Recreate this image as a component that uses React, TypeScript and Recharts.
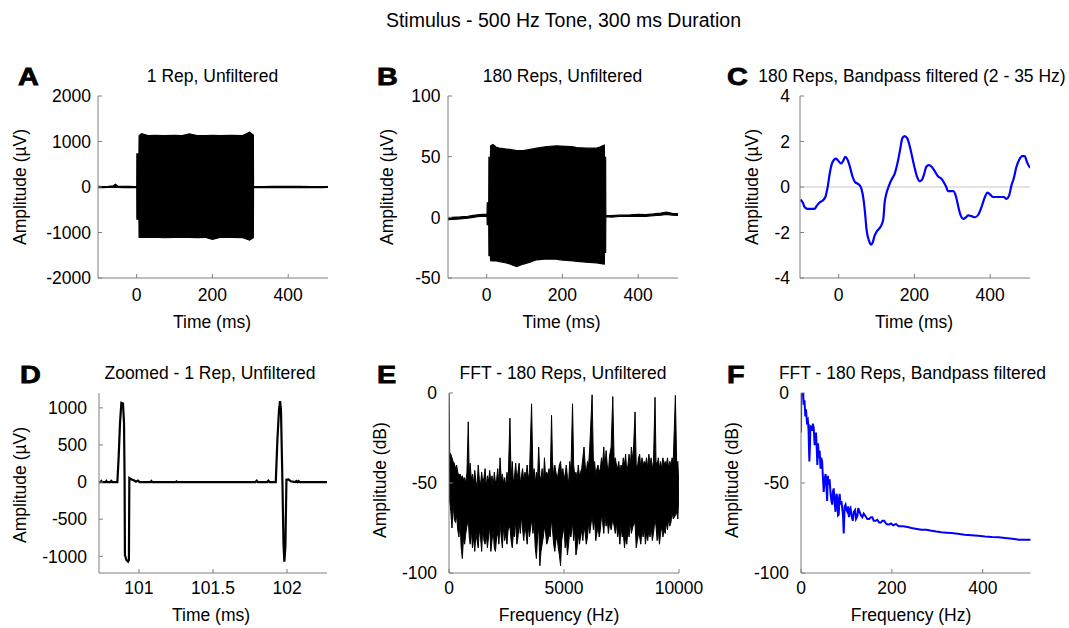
import React from 'react';
import { ComposedChart, Line, Area, XAxis, YAxis, ReferenceLine } from 'recharts';

const FONT = '"Liberation Sans", Arial, Helvetica, sans-serif';
const AXIS_COLOR = '#7f7f7f';

// ---------- Panel A: 1 rep, unfiltered (envelope: time ms, low, high µV)
const panelAEnvelope: [number, number, number][] = [
  [-101, -12, 14], [-90, -14, 10], [-75, -10, 16], [-62, -8, 26], [-56, -6, 60], [-50, -10, 20],
  [-35, -14, 12], [-20, -12, 14], [-5, -14, 10], [0.3, -12, 12], [0.6, -707, 729], [6, -710, 725],
  [6.5, -1108, 1133], [13, -1100, 1170], [30, -1110, 1130], [50, -1102, 1136], [70, -1115, 1128],
  [100, -1105, 1135], [120, -1110, 1130], [139, -1108, 1168], [160, -1112, 1132], [180, -1105, 1128],
  [200, -1150, 1136], [220, -1110, 1130], [250, -1108, 1135], [280, -1112, 1130], [298, -1168, 1205],
  [308, -1115, 1140], [308.5, -12, 12], [330, -14, 10], [360, -10, 14], [400, -14, 12],
  [430, -12, 14], [460, -10, 10], [490, -14, 8], [507, -10, 6],
];

// ---------- Panel B: 180 reps, unfiltered (envelope)
const panelBEnvelope: [number, number, number][] = [
  [-104, -2, -0.5], [-90, -1.7, -0.1], [-70, -1.3, 0.3], [-50, -0.7, 0.9], [-35, 0, 1.6],
  [-20, 0.8, 2.2], [-8, 1, 2.4], [1, 0.6, 2.4], [1.5, -6, 12], [5.5, -6, 12], [6, -31.6, 49.5],
  [10, -31.6, 49.5], [10.6, -35.7, 59], [16.7, -36, 60], [25.5, -36, 57.7], [34, -36.5, 57],
  [52, -37.5, 56.3], [61, -38.5, 56], [79, -40.7, 55], [97, -38.5, 55], [114.5, -37, 56],
  [123, -36, 56.5], [132, -35, 57], [158.5, -34.3, 58.2], [185, -34.5, 59], [194, -35, 58.8],
  [211, -35.5, 58.5], [229, -36, 58], [237, -36.3, 57.5], [264, -37, 57], [290, -37.5, 57],
  [299, -38, 58], [306, -38.3, 59], [310.5, -38.5, 59.5], [311, -29, 49.5], [314, -29, 49.5],
  [314.5, 0.5, 1.6], [330, 0.2, 1.4], [350, 0.7, 1.8], [380, 0.8, 2.1], [400, 1, 2.5], [420, 0.8, 2.3],
  [440, 1.3, 2.8], [460, 1.7, 3.5], [474, 2.5, 4.4], [490, 1.7, 3.3], [507, 1.5, 3],
];

// ---------- Panel C: 180 reps, bandpass filtered (time ms, µV)
const panelCTime = [
  -101, -94, -90, -82, -64, -57, -51, -42, -35, -29, -22, -16, -7, 0, 6, 13, 17, 24, 31, 37, 43, 54, 60,
  66, 69, 74, 80, 85, 89, 95, 102, 111, 118, 121, 126, 133, 141, 148, 155, 162, 168, 174, 181, 188,
  194, 200, 207, 214, 220, 226, 231, 238, 246, 255, 262, 271, 277, 284, 288, 303, 310, 316, 322, 329,
  336, 342, 351, 360, 369, 377, 386, 392, 399, 408, 425, 436, 443, 450, 456, 462, 469, 476, 484, 491,
  497, 504, 508,
];
const panelCAmp = [
  -0.55, -0.7, -0.88, -0.96, -0.96, -0.81, -0.69, -0.59, -0.44, 0, 0.74, 1.1, 1.25, 1.13, 1.03, 1.18, 1.33,
  1.18, 0.81, 0.44, 0.22, 0.1, -0.07, -0.59, -1.03, -1.92, -2.36, -2.53, -2.47, -2.14, -1.92, -1.74,
  -1.4, -0.74, -0.29, 0.07, 0.37, 0.59, 1.03, 1.62, 2.14, 2.24, 2.14, 1.77, 1.33, 0.88, 0.44, 0.25,
  0.32, 0.59, 0.88, 0.96, 0.88, 0.66, 0.47, 0.37, 0.22, 0, -0.18, -0.18, -0.44, -0.88, -1.25, -1.4,
  -1.33, -1.25, -1.28, -1.33, -1.21, -0.88, -0.44, -0.25, -0.32, -0.44, -0.44, -0.44, -0.52, -0.37,
  0.07, 0.37, 0.88, 1.18, 1.36, 1.36, 1.1, 0.88, 0.86,
];

// ---------- Panel D: zoomed 1 rep (time ms, µV)
const panelDTime = [
  100.73, 100.74, 100.746, 100.752, 100.775, 100.78, 100.786, 100.806, 100.813, 100.82, 100.854,
  100.863, 100.872, 100.881, 100.892, 100.899, 100.903, 100.905, 100.915, 100.926, 100.932, 100.935,
  100.95, 100.965, 100.98, 100.993, 101.005, 101.078, 101.084, 101.09, 101.248, 101.253, 101.258,
  101.787, 101.795, 101.803, 101.866, 101.874, 101.882, 101.924, 101.935, 101.946, 101.953, 101.959,
  101.969, 101.976, 101.982, 101.989, 101.996, 102.01, 102.025, 102.055, 102.063, 102.07, 102.078,
  102.086, 102.27,
];
const panelDAmp = [
  0, 0, 15, 0, 0, 15, 0, 0, 15, 0, 0,
  346, 797, 1067, 1058, 797, 0, -982, -1050, -1072, -1050, 54,
  35, 25, 5, 20, 0, 0, 15, 0, 0, 8, 0,
  0, 18, 0, 0, 18, 0, 0, 571, 977, 1089, 977,
  0, -824, -1072, -869, 31, 35, 10, 0, 15, 0, 15,
  0, 0,
];

// ---------- Panel E: FFT 180 reps unfiltered (Hz, low dB, high dB)
const panelEEnvelope: [number, number, number][] = [
  [0, -58, 0], [30, -60, -33], [80, -66, -34], [130, -75, -36], [180, -62, -38], [230, -70, -39],
  [280, -72, -42], [330, -68, -40], [380, -76, -44], [430, -80, -46], [480, -72, -45], [530, -86, -47],
  [580, -92, -46], [630, -80, -48], [680, -84, -47], [730, -78, -50], [780, -74, -44], [838, -70, -16],
  [880, -80, -47], [920, -84, -39], [970, -76, -48], [1020, -86, -45], [1070, -80, -50], [1120, -88, -43],
  [1170, -78, -49], [1220, -82, -52], [1270, -86, -40], [1320, -76, -48], [1370, -80, -51], [1420, -88, -44],
  [1470, -74, -50], [1520, -82, -47], [1570, -84, -42], [1620, -78, -52], [1670, -86, -46], [1720, -80, -49],
  [1770, -74, -43], [1820, -88, -50], [1870, -82, -46], [1920, -76, -52], [1970, -86, -44], [2020, -88, -50],
  [2070, -80, -48], [2120, -78, -42], [2170, -84, -51], [2220, -72, -36], [2270, -80, -48], [2320, -86, -45],
  [2370, -74, -50], [2420, -82, -47], [2470, -78, -52], [2520, -84, -44], [2570, -76, -50], [2649, -74, -14],
  [2700, -82, -48], [2750, -86, -38], [2800, -78, -50], [2850, -80, -46], [2900, -70, -39], [2950, -84, -48],
  [3000, -80, -44], [3050, -72, -39], [3100, -78, -50], [3150, -68, -46], [3200, -76, -42], [3250, -82, -49],
  [3300, -74, -44], [3350, -78, -46], [3400, -84, -40], [3450, -74, -48], [3500, -80, -44], [3591, -70, -6],
  [3650, -78, -46], [3700, -72, -42], [3750, -86, -50], [3800, -92, -44], [3850, -80, -48], [3900, -74, -30],
  [3950, -96, -46], [4000, -88, -48], [4050, -84, -42], [4100, -80, -50], [4150, -74, -36], [4200, -78, -47],
  [4250, -84, -44], [4300, -82, -46], [4350, -78, -42], [4400, -80, -48], [4459, -70, -12.4], [4500, -76, -38],
  [4550, -84, -46], [4600, -88, -40], [4650, -82, -44], [4700, -80, -48], [4750, -86, -44], [4800, -90, -40],
  [4850, -96, -38], [4900, -82, -46], [4950, -78, -42], [5000, -74, -48], [5050, -86, -45], [5100, -80, -40],
  [5150, -90, -47], [5200, -84, -50], [5250, -76, -38], [5300, -80, -44], [5371, -72, -6], [5420, -82, -40],
  [5470, -76, -46], [5520, -90, -44], [5570, -86, -48], [5620, -78, -40], [5670, -84, -46], [5720, -80, -44],
  [5770, -76, -42], [5820, -82, -36], [5870, -74, -30], [5920, -78, -40], [5970, -84, -44], [6020, -80, -38],
  [6070, -72, -40], [6120, -78, -30], [6222, -68, -1], [6280, -76, -40], [6330, -70, -38], [6380, -82, -46],
  [6430, -78, -42], [6480, -74, -40], [6530, -80, -44], [6580, -76, -42], [6630, -68, -36], [6680, -72, -40],
  [6730, -78, -30], [6780, -68, -42], [6830, -74, -32], [6880, -70, -40], [6930, -78, -44], [6980, -72, -35],
  [7050, -76, -30], [7121, -70, -2], [7180, -74, -38], [7230, -78, -36], [7280, -72, -40], [7330, -80, -42],
  [7380, -76, -38], [7430, -84, -44], [7480, -74, -40], [7530, -80, -42], [7580, -78, -36], [7630, -86, -40],
  [7680, -80, -34], [7730, -84, -44], [7780, -76, -40], [7830, -80, -34], [7880, -72, -42], [7930, -78, -30],
  [8000, -74, -38], [8089, -72, -10.5], [8140, -86, -40], [8190, -82, -42], [8240, -78, -36], [8290, -80, -34],
  [8340, -84, -42], [8390, -76, -36], [8440, -80, -40], [8490, -74, -38], [8540, -84, -40], [8590, -78, -36],
  [8640, -82, -42], [8690, -76, -34], [8740, -80, -40], [8790, -74, -36], [8840, -82, -42], [8890, -78, -38],
  [8958, -70, -2.4], [9000, -74, -38], [9050, -82, -40], [9100, -76, -36], [9150, -84, -42], [9200, -78, -38],
  [9250, -74, -42], [9300, -80, -36], [9350, -76, -40], [9400, -78, -38], [9450, -72, -40], [9500, -76, -36],
  [9550, -70, -42], [9600, -74, -38], [9650, -72, -40], [9700, -66, -36], [9750, -70, -38], [9843, -68, -1.3],
  [9900, -66, -40], [9950, -70, -38], [10000, -54, -54],
];

// ---------- Panel F: FFT 180 reps bandpass (Hz, dB)
const panelFFreq = [
  0, 0.5, 3.6, 4.7, 6, 7.7, 9.5, 11, 13, 15, 16.5, 18.4, 19.6, 20.6, 22.6, 24.3, 26, 28, 30, 31.5, 33,
  34.5, 36, 37.5, 39, 41, 43, 44.5, 46.5, 48, 50, 52, 54, 56, 57.5, 59, 61, 63, 65, 67, 68.6, 70, 72,
  74, 76, 78, 80, 81.5, 83, 85, 87, 89, 90.7, 92.5, 94, 96, 98, 100, 102, 104, 105.5, 107, 109, 111,
  114, 116, 119, 121, 124, 126, 129, 132, 135, 138, 142, 146, 150, 154, 157, 160, 164, 168, 172,
  175.6, 179, 183, 187, 190, 194, 198, 203, 209, 215, 220, 224, 235, 243, 255, 265, 276, 287, 298,
  309, 320, 331, 345, 360, 375, 390, 405, 420, 435, 449, 465, 479, 495, 507,
];
const panelFAmp = [
  -22, 0, -1, 0, -6.5, -4, -13, -9, -16, -15, -20, -38, -30, -18.5, -19, -21, -17, -19.4, -29, -24, -22,
  -30, -40, -28, -36, -32, -42, -36, -38, -46, -55, -48, -45, -52, -60, -46, -51, -48, -56, -60, -62, -55, -53,
  -61, -66, -56, -58, -68, -67.6, -56, -62, -60, -64, -68, -78, -63, -62, -65, -66, -63, -69, -65, -64, -68,
  -71, -66, -65, -70, -68.5, -64, -66, -68, -69, -67, -68.5, -70, -70, -69, -69, -71, -71, -70.5, -72,
  -72, -71, -71, -72.5, -73, -73, -72.5, -73.5, -72.8, -74, -74, -74, -74.5, -75, -75.5, -76, -76, -76.5, -77,
  -77.4, -77.6, -77.8, -78.2, -78.7, -79, -79.3, -79.7, -80, -80.2, -80.5, -81, -81.5, -81.5, -81.6,
];

// tick values
const timeTicks = [0, 200, 400];
const aYTicks = [-2000, -1000, 0, 1000, 2000];
const bYTicks = [-50, 0, 50, 100];
const cYTicks = [-4, -2, 0, 2, 4];
const dXTicks = [101, 101.5, 102];
const dYTicks = [-1000, -500, 0, 500, 1000];
const eXTicks = [0, 5000, 10000];
const dbTicks = [-100, -50, 0];
const fXTicks = [0, 200, 400];

const envRows = (rows: [number, number, number][]) => rows.map(([x, lo, hi]) => ({ x, r: [lo, hi] }));
const lineRows = (xs: number[], ys: number[]) => xs.map((x, i) => ({ x, y: ys[i] }));

type Box = { x: number; y: number; w: number; h: number };

const YW = 70;
const XH = 45;
const MT = 10;
const MR = 45;

function Panel(props: {
  box: Box;
  data: any[];
  xDomain: [number, number];
  yDomain: [number, number];
  xTicks: number[];
  yTicks: number[];
  xMargin: number;
  yMargin: number;
  children: React.ReactNode;
}) {
  const { box, data, xDomain, yDomain, xTicks, yTicks, xMargin, yMargin, children } = props;
  const tickStyle = { fill: '#000', fontSize: 17.5, fontFamily: FONT };
  return (
    <div style={{ position: 'absolute', left: box.x - YW, top: box.y - MT }}>
      <ComposedChart
        width={box.w + YW + MR}
        height={box.h + MT + XH}
        data={data}
        margin={{ top: MT, right: MR, bottom: 0, left: 0 }}
      >
        <XAxis
          type="number"
          dataKey="x"
          domain={xDomain}
          ticks={xTicks}
          allowDataOverflow
          interval={0}
          height={XH}
          tickSize={-4}
          tickMargin={xMargin}
          stroke={AXIS_COLOR}
          tick={tickStyle}
        />
        <YAxis
          type="number"
          domain={yDomain}
          ticks={yTicks}
          allowDataOverflow
          interval={0}
          width={YW}
          tickSize={-4}
          tickMargin={yMargin}
          stroke={AXIS_COLOR}
          tick={tickStyle}
        />
        {children}
      </ComposedChart>
    </div>
  );
}

const texts = {
  title: 'Stimulus - 500 Hz Tone, 300 ms Duration',
};

function Letter({ x, y, ch }: { x: number; y: number; ch: string }) {
  return (
    <text
      transform={`translate(${x},${y}) scale(1.2,1)`}
      style={{ fontFamily: FONT, fontSize: 24, fontWeight: 'bold', fill: '#000', stroke: '#000', strokeWidth: 0.8 }}
    >
      {ch}
    </text>
  );
}

export default function App() {
  const boxA: Box = { x: 98, y: 95.7, w: 230, h: 182 };
  const boxB: Box = { x: 448, y: 95.7, w: 230, h: 182 };
  const boxC: Box = { x: 799.5, y: 95.7, w: 230, h: 182 };
  const boxD: Box = { x: 99, y: 393.3, w: 228, h: 180 };
  const boxE: Box = { x: 449, y: 393.3, w: 230, h: 180 };
  const boxF: Box = { x: 800.5, y: 393.3, w: 229.5, h: 180 };
  const tDom: [number, number] = [-102, 505];

  const labelStyle: React.CSSProperties = { fontFamily: FONT, fontSize: 17.5, fill: '#000' };

  return (
    <div style={{ position: 'absolute', left: 0, top: 0, width: 1069, height: 628, background: '#fff', overflow: 'hidden' }}>
      <Panel box={boxA} data={envRows(panelAEnvelope)} xDomain={tDom} yDomain={[-2000, 2000]} xTicks={timeTicks} yTicks={aYTicks} xMargin={15} yMargin={11}>
        <Area dataKey="r" type="linear" stroke="#000" strokeWidth={1.2} fill="#000" fillOpacity={1} isAnimationActive={false} dot={false} activeDot={false} />
      </Panel>
      <Panel box={boxB} data={envRows(panelBEnvelope)} xDomain={tDom} yDomain={[-50, 100]} xTicks={timeTicks} yTicks={bYTicks} xMargin={15} yMargin={11.5}>
        <Area dataKey="r" type="linear" stroke="#000" strokeWidth={1.2} fill="#000" fillOpacity={1} isAnimationActive={false} dot={false} activeDot={false} />
      </Panel>
      <Panel box={boxC} data={lineRows(panelCTime, panelCAmp)} xDomain={tDom} yDomain={[-4, 4]} xTicks={timeTicks} yTicks={cYTicks} xMargin={15} yMargin={14}>
        <ReferenceLine y={0} stroke="#c8c8c8" strokeWidth={1.2} />
        <Line dataKey="y" type="monotone" stroke="#0000ff" strokeWidth={2.2} dot={false} activeDot={false} isAnimationActive={false} />
      </Panel>
      <Panel box={boxD} data={lineRows(panelDTime, panelDAmp)} xDomain={[100.73, 102.27]} yDomain={[-1225, 1200]} xTicks={dXTicks} yTicks={dYTicks} xMargin={13} yMargin={16}>
        <Line dataKey="y" type="linear" stroke="#000" strokeWidth={2.2} dot={false} activeDot={false} isAnimationActive={false} />
      </Panel>
      <Panel box={boxE} data={envRows(panelEEnvelope)} xDomain={[0, 10000]} yDomain={[-100, 0]} xTicks={eXTicks} yTicks={dbTicks} xMargin={13} yMargin={16}>
        <Area dataKey="r" type="linear" stroke="#000" strokeWidth={1} fill="#000" fillOpacity={1} isAnimationActive={false} dot={false} activeDot={false} />
      </Panel>
      <Panel box={boxF} data={lineRows(panelFFreq, panelFAmp)} xDomain={[0, 505]} yDomain={[-100, 0]} xTicks={fXTicks} yTicks={dbTicks} xMargin={13} yMargin={16}>
        <Line dataKey="y" type="linear" stroke="#0000ff" strokeWidth={2} dot={false} activeDot={false} isAnimationActive={false} />
      </Panel>

      <svg width={1069} height={628} style={{ position: 'absolute', left: 0, top: 0, pointerEvents: 'none' }}>
        <text x={563.5} y={26.5} textAnchor="middle" style={{ ...labelStyle, fontSize: 19.5 }}>{texts.title}</text>

        <Letter x={18} y={85} ch="A" />
        <Letter x={377} y={85} ch="B" />
        <Letter x={727} y={85} ch="C" />
        <Letter x={20} y={383} ch="D" />
        <Letter x={377} y={383} ch="E" />
        <Letter x={727} y={383} ch="F" />

        <text x={212.5} y={82} textAnchor="middle" style={labelStyle}>1 Rep, Unfiltered</text>
        <text x={562.5} y={82} textAnchor="middle" style={labelStyle}>180 Reps, Unfiltered</text>
        <text x={912} y={82} textAnchor="middle" style={labelStyle}>180 Reps, Bandpass filtered (2 - 35 Hz)</text>
        <text x={210} y={379} textAnchor="middle" style={labelStyle}>Zoomed - 1 Rep, Unfiltered</text>
        <text x={563} y={379} textAnchor="middle" style={labelStyle}>FFT - 180 Reps, Unfiltered</text>
        <text x={912.5} y={379} textAnchor="middle" style={labelStyle}>FFT - 180 Reps, Bandpass filtered</text>

        <text x={212} y={328} textAnchor="middle" style={labelStyle}>Time (ms)</text>
        <text x={561.5} y={328} textAnchor="middle" style={labelStyle}>Time (ms)</text>
        <text x={914} y={328} textAnchor="middle" style={labelStyle}>Time (ms)</text>
        <text x={211} y={621} textAnchor="middle" style={labelStyle}>Time (ms)</text>
        <text x={559} y={621} textAnchor="middle" style={labelStyle}>Frequency (Hz)</text>
        <text x={911} y={621} textAnchor="middle" style={labelStyle}>Frequency (Hz)</text>

        <text transform="translate(25.5,187) rotate(-90)" textAnchor="middle" style={labelStyle}>Amplitude (µV)</text>
        <text transform="translate(392.5,187) rotate(-90)" textAnchor="middle" style={labelStyle}>Amplitude (µV)</text>
        <text transform="translate(757.5,187) rotate(-90)" textAnchor="middle" style={labelStyle}>Amplitude (µV)</text>
        <text transform="translate(25.5,485) rotate(-90)" textAnchor="middle" style={labelStyle}>Amplitude (µV)</text>
        <text transform="translate(386,480) rotate(-90)" textAnchor="middle" style={labelStyle}>Amplitude (dB)</text>
        <text transform="translate(737.5,480) rotate(-90)" textAnchor="middle" style={labelStyle}>Amplitude (dB)</text>
      </svg>
    </div>
  );
}
